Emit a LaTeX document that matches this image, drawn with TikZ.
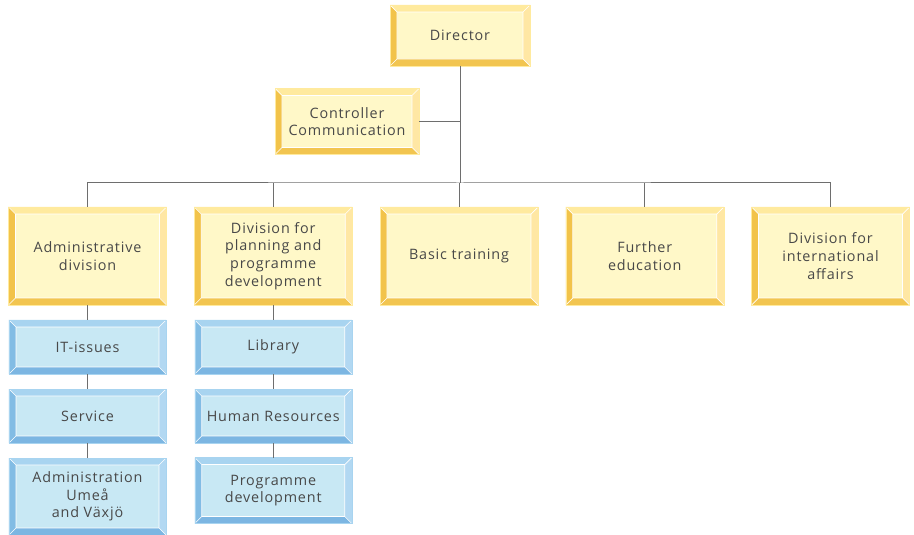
\documentclass[tikz,border=0pt]{standalone}
\usepackage{fontspec}
\setmainfont{Open Sans}[LetterSpace=6]
\usepackage{tikz}
\usepackage{xcolor}

\definecolor{yface}{RGB}{255,248,200}
\definecolor{ytop}{RGB}{255,234,158}
\definecolor{yright}{RGB}{255,231,164}
\definecolor{yleft}{RGB}{242,195,74}
\definecolor{ybot}{RGB}{242,197,80}
\definecolor{bface}{RGB}{200,232,244}
\definecolor{btop}{RGB}{168,212,240}
\definecolor{bright}{RGB}{178,216,242}
\definecolor{bleft}{RGB}{130,188,228}
\definecolor{bbot}{RGB}{124,182,226}
\definecolor{txtgray}{RGB}{72,72,72}
\definecolor{linegray}{RGB}{110,110,110}

\newcommand\bevelframe[4]{%
	\path (path picture bounding box.north west) coordinate (o1)
		(path picture bounding box.north east) coordinate (o2)
		(path picture bounding box.south east) coordinate (o3)
		(path picture bounding box.south west) coordinate (o4);
	\path ([shift={(7bp,-7bp)}]o1) coordinate (i1)
		([shift={(-7bp,-7bp)}]o2) coordinate (i2)
		([shift={(-7bp,7bp)}]o3) coordinate (i3)
		([shift={(7bp,7bp)}]o4) coordinate (i4);
	\fill[#1] (o1) -- (o2) -- (i2) -- (i1) -- cycle;
	\fill[#2] (o2) -- (o3) -- (i3) -- (i2) -- cycle;
	\fill[#3] (o3) -- (o4) -- (i4) -- (i3) -- cycle;
	\fill[#4] (o4) -- (o1) -- (i1) -- (i4) -- cycle;
	\draw[white,line width=0.7bp] (i1) rectangle (i3) (o1) -- (i1) 
		(o2) -- (i2) (o3) -- (i3) (o4) -- (i4);}

\tikzset{
	box/.style={inner sep=0pt,outer sep=0pt,align=center,text=txtgray,
		font=\fontsize{14.4}{17.7}\selectfont},
	orgbox/.style 2 args={box,fill=yface,draw=ytop,line width=0.5bp,
		minimum width=#1,minimum height=#2,
		path picture={\bevelframe{ytop}{yright}{ybot}{yleft}}},
	unitbox/.style 2 args={box,fill=bface,draw=btop,line width=0.5bp,
		minimum width=#1,minimum height=#2,
		path picture={\bevelframe{btop}{bright}{bbot}{bleft}}},
	conn/.style={draw=linegray,line width=1bp}
}

\begin{document}
\begin{tikzpicture}[x=1bp,y=-1bp]
	\useasboundingbox (0,0) rectangle (914,535);

	\node[orgbox={140bp}{61bp}] (dir) at (460,35.5) {Director};
	\node[orgbox={144bp}{66bp}] (ctrl) at (347,121.5) {Controller\\Communication};
	\coordinate (bar) at (460,183);

	\node[orgbox={158bp}{98bp}] (adm) at (87.5,256) {Administrative\\division};
	\node[orgbox={158bp}{98bp}] (div) at (273.25,256) 
		{Division for\\planning and\\programme\\development};
	\node[orgbox={158bp}{98bp}] (basic) at (459,256) {Basic training};
	\node[orgbox={158bp}{98bp}] (further) at (644.75,256) {Further\\education};
	\node[orgbox={158bp}{98bp}] (intl) at (830.5,256) 
		{Division for\\international\\affairs};

	\node[unitbox={157bp}{54bp}] (it) at (87.5,347) {IT-issues};
	\node[unitbox={157bp}{54bp}] (serv) at (87.5,416) {Service};
	\node[unitbox={157bp}{77bp}] (umea) at (87.5,496.5) 
		{Administration\\Umeå\\and Växjö};
	\node[unitbox={157bp}{54bp}] (lib) at (273.25,347) {Library};
	\node[unitbox={157bp}{54bp}] (hr) at (273.25,416) {Human Resources};
	\node[unitbox={157bp}{66bp}] (prog) at (273.25,490.5) 
		{Programme\\development};

	\draw[conn] (dir.south) -- (bar);
	\draw[conn] (ctrl.east) -- (ctrl.east -| bar);
	\draw[conn] (adm.north) |- (bar) -| (intl.north);
	\foreach \n in {div,basic,further}
		\draw[conn] (\n.north) -- (\n.north |- bar);
	\draw[conn] (adm) -- (it);
	\draw[conn] (it) -- (serv);
	\draw[conn] (serv) -- (umea);
	\draw[conn] (div) -- (lib);
	\draw[conn] (lib) -- (hr);
	\draw[conn] (hr) -- (prog);
\end{tikzpicture}
\end{document}
